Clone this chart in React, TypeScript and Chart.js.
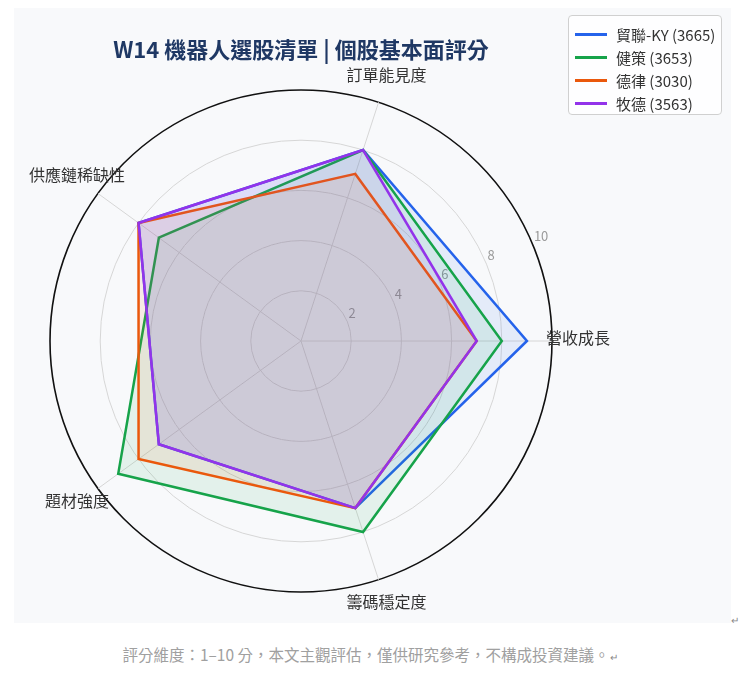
import React, { useEffect, useRef } from "react";
import { Chart, registerables } from "chart.js";

Chart.register(...registerables);

// axes go clockwise starting from the right-hand side
const dimensions = ["營收成長", "籌碼穩定度", "題材強度", "供應鏈稀缺性", "訂單能見度"];
const stocks = ["貿聯-KY (3665)", "健策 (3653)", "德律 (3030)", "牧德 (3563)"];
const lineColors = ["#2563eb", "#16a34a", "#ea580c", "#9333ea"];
const fillColors = [
  "rgba(37,99,235,0.09)",
  "rgba(22,163,74,0.09)",
  "rgba(234,88,12,0.09)",
  "rgba(147,51,234,0.09)",
];
const bizlink = [9, 7, 7, 8, 8];
const jentech = [8, 8, 9, 7, 8];
const tri = [7, 7, 8, 8, 7];
const utechzone = [7, 7, 7, 8, 8];
const scores = [bizlink, jentech, tri, utechzone];
const tickValues = [2, 4, 6, 8, 10];

const FONT = "'Noto Sans CJK TC', 'Noto Sans', sans-serif";

const radarText = {
  id: "radarText",
  beforeDatasetsDraw(chart: any) {
    const r = chart.scales.r;
    const ctx = chart.ctx;
    ctx.save();
    ctx.font = `13px ${FONT}`;
    ctx.fillStyle = "#9a9a9a";
    ctx.textAlign = "left";
    ctx.textBaseline = "middle";
    const a = (-22.5 * Math.PI) / 180;
    tickValues.forEach((v) => {
      const d = r.getDistanceFromCenterForValue(v);
      ctx.fillText(String(v), r.xCenter + d * Math.cos(a) + 1, r.yCenter + d * Math.sin(a) - 9);
    });
    ctx.restore();
  },
  afterDraw(chart: any) {
    const r = chart.scales.r;
    const ctx = chart.ctx;
    const d = r.getDistanceFromCenterForValue(10) + 26;
    ctx.save();
    ctx.font = `16px ${FONT}`;
    ctx.fillStyle = "#333333";
    ctx.textAlign = "center";
    ctx.textBaseline = "middle";
    dimensions.forEach((label, i) => {
      const p = r.getPointPosition(i, d);
      ctx.fillText(label, p.x, p.y - 3);
    });
    ctx.restore();
  },
};

const RadarChart: React.FC = () => {
  const chartRef = useRef<HTMLCanvasElement>(null);

  useEffect(() => {
    if (!chartRef.current) return;
    const chart = new Chart(chartRef.current, {
      type: "radar",
      data: {
        labels: dimensions,
        datasets: stocks.map((name, i) => ({
          label: name,
          data: scores[i],
          borderColor: lineColors[i],
          backgroundColor: fillColors[i],
          borderWidth: 2.5,
          fill: true,
          pointRadius: 0,
          tension: 0,
          order: stocks.length - i,
        })),
      },
      options: {
        responsive: false,
        animation: false,
        layout: { padding: { left: 36, right: 179, top: 0, bottom: 31 } },
        plugins: {
          legend: { display: false },
          tooltip: { enabled: false },
          title: {
            display: true,
            text: "W14 機器人選股清單 | 個股基本面評分",
            color: "#1f3864",
            font: { family: FONT, size: 22, weight: "bold", lineHeight: 1.2 },
            padding: { top: 28, bottom: 27.6 },
          },
        },
        scales: {
          r: {
            min: 0,
            max: 10,
            startAngle: 90,
            ticks: { stepSize: 2, display: false },
            pointLabels: { display: false },
            angleLines: { color: "#d6d6d6", lineWidth: 1 },
            grid: {
              circular: true,
              color: (c: any) => (c.tick && c.tick.value === 10 ? "#111111" : "#d6d6d6"),
              lineWidth: (c: any) => (c.tick && c.tick.value === 10 ? 1.6 : 1),
            },
          },
        },
      },
      plugins: [radarText],
    });
    return () => {
      chart.destroy();
    };
  }, []);

  return <canvas ref={chartRef} width={717} height={615} style={{ width: 717, height: 615 }} />;
};

const Legend: React.FC = () => (
  <div
    style={{
      position: "absolute",
      left: 568,
      top: 15,
      width: 154,
      height: 100,
      border: "1px solid #d0d0d0",
      borderRadius: 4,
      background: "rgba(255,255,255,0.85)",
      paddingTop: 7,
      boxSizing: "border-box",
      fontFamily: FONT,
      fontSize: 15,
      color: "#333",
    }}
  >
    {stocks.map((name, i) => (
      <div key={name} style={{ height: 23, display: "flex", alignItems: "center" }}>
        <span
          style={{
            display: "inline-block",
            marginLeft: 6,
            width: 32,
            height: 3,
            background: lineColors[i],
          }}
        />
        <span style={{ marginLeft: 9, whiteSpace: "nowrap" }}>{name}</span>
      </div>
    ))}
  </div>
);

export default function App() {
  return (
    <div style={{ position: "absolute", left: 0, top: 0, width: 740, height: 686, background: "#fff" }}>
      <div style={{ position: "absolute", left: 14, top: 8, width: 717, height: 615, background: "#f8f9fb" }}>
        <RadarChart />
      </div>
      <Legend />
      <div style={{ position: "absolute", left: 731, top: 612, fontSize: 10, color: "#888", fontFamily: FONT }}>↵</div>
      <div
        style={{
          position: "absolute",
          left: 0,
          top: 644,
          width: 740,
          textAlign: "center",
          fontFamily: FONT,
          fontSize: 15.5,
          lineHeight: "20px",
          color: "#a0a0a0",
        }}
      >
        評分維度：1–10 分，本文主觀評估，僅供研究參考，不構成投資建議。
        <span style={{ fontSize: 10, color: "#888" }}>↵</span>
      </div>
    </div>
  );
}
